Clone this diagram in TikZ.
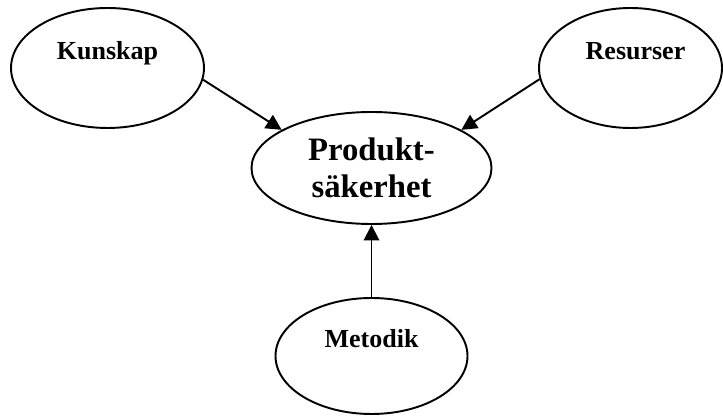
\documentclass[tikz,border=0pt]{standalone}
\usepackage{fontspec}
\setmainfont{Liberation Serif}
\usepackage{tikz}
\usetikzlibrary{shapes.geometric,arrows.meta}

\begin{document}
\begin{tikzpicture}[
                oval/.style={ellipse,draw,line width=1.1pt,inner sep=0pt},
                word/.style={font=\bfseries\fontsize{14.8}{17}\selectfont,anchor=base},
                arr/.style={line width=1.1pt,-{Triangle[length=0.31cm,width=0.31cm]}}]
                \useasboundingbox (0,0) rectangle (14.46,8.32);
                \node[oval,minimum width=3.86cm,minimum height=2.4cm] (kunskap) at (2.15,6.96) {};
                \node[oval,minimum width=3.66cm,minimum height=2.4cm] (resurser) at (12.61,6.96) {};
                \node[oval,minimum width=3.84cm,minimum height=2.32cm] (metodik) at (7.43,1.2) {};
                \node[oval,minimum width=4.8cm,minimum height=2.24cm,align=center,
                      font=\bfseries\fontsize{18.6}{21}\selectfont] (produkt) at (7.43,4.96) {Produkt-\\s\"akerhet};
                \node[word] (kunskaptext) at ([yshift=0.16cm]kunskap.center) {Kunskap};
                \node[word] (resursertext) at ([xshift=0.1cm,yshift=0.16cm]resurser.center) {Resurser};
                \node[word] (metodiktext) at ([yshift=0.16cm]metodik.center) {Metodik};
                \draw[arr] (kunskap.353) -- (produkt.157);
                \draw[arr] (resurser.187) -- (produkt.23);
                \draw[arr] (metodik.north) -- (produkt.south);
            \end{tikzpicture}
\end{document}
